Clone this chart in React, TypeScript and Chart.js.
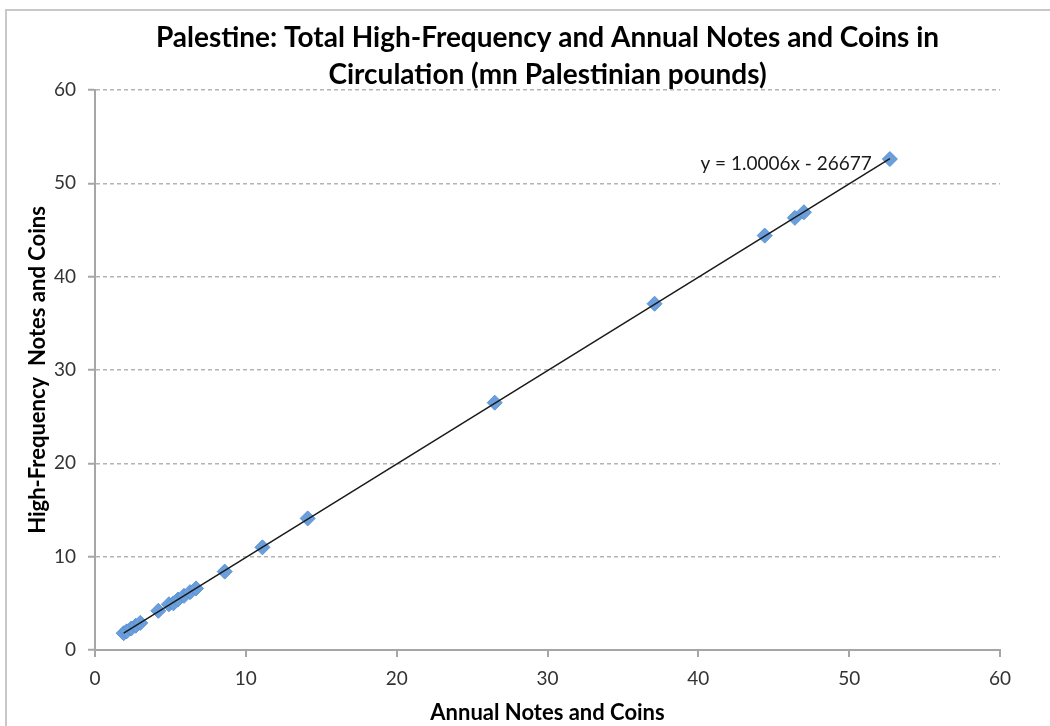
import React, { useEffect, useRef } from "react";
import { Chart, registerables } from "chart.js";

Chart.register(...registerables);

const titleLines = [
  "Palestine: Total High-Frequency and Annual Notes and Coins in",
  "Circulation (mn Palestinian pounds)",
];
const xAxisTitle = "Annual Notes and Coins";
const yAxisTitle = "High-Frequency  Notes and Coins";
const equationLabel = "y = 1.0006x - 26677";

const annualValues = [
  1.9, 2.1, 2.4, 2.7, 3.0, 4.2, 4.9, 5.2, 5.5, 5.9, 6.3, 6.7, 8.6, 11.1, 14.1,
  26.5, 37.1, 44.4, 46.4, 47.0, 52.7,
];
const highFrequencyValues = [
  1.8, 2.0, 2.3, 2.6, 2.9, 4.2, 4.9, 5.0, 5.4, 5.8, 6.2, 6.6, 8.4, 11.0, 14.1,
  26.5, 37.1, 44.4, 46.3, 46.9, 52.6,
];
const axisTicks = [0, 10, 20, 30, 40, 50, 60];

const FONT = "Lato, 'Open Sans', sans-serif";

export default function App() {
  const canvasRef = useRef<HTMLCanvasElement | null>(null);

  useEffect(() => {
    const canvas = canvasRef.current;
    if (!canvas) return;

    const points = annualValues.map((x, i) => ({ x, y: highFrequencyValues[i] }));
    // least squares fit of the data for the trendline
    const n = points.length;
    const mx = points.reduce((s, p) => s + p.x, 0) / n;
    const my = points.reduce((s, p) => s + p.y, 0) / n;
    let sxy = 0;
    let sxx = 0;
    points.forEach((p) => {
      sxy += (p.x - mx) * (p.y - my);
      sxx += (p.x - mx) * (p.x - mx);
    });
    const slope = sxy / sxx;
    const intercept = my - slope * mx;
    const minX = Math.min(...annualValues);
    const maxX = Math.max(...annualValues);
    const trend = [
      { x: minX, y: slope * minX + intercept },
      { x: maxX, y: slope * maxX + intercept },
    ];

    const decorPlugin = {
      id: "decor",
      beforeDraw(chart: any) {
        const ctx = chart.ctx;
        ctx.save();
        ctx.fillStyle = "#ffffff";
        ctx.fillRect(0, 0, chart.width, chart.height);
        ctx.strokeStyle = "#c8c8c8";
        ctx.lineWidth = 2;
        ctx.strokeRect(6, 10, chart.width + 20, chart.height + 20);
        ctx.restore();
      },
      afterDraw(chart: any) {
        const ctx = chart.ctx;
        const area = chart.chartArea;
        const cx = (area.left + area.right) / 2;
        ctx.save();
        ctx.fillStyle = "#000000";
        ctx.textAlign = "center";
        ctx.textBaseline = "middle";
        ctx.font = `bold 28px ${FONT}`;
        ctx.fillText(titleLines[0], cx, 38);
        ctx.fillText(titleLines[1], cx, 75);

        ctx.font = `bold 22px ${FONT}`;
        ctx.fillText(xAxisTitle, cx, 713);

        ctx.save();
        ctx.translate(38, (area.top + area.bottom) / 2);
        ctx.rotate(-Math.PI / 2);
        ctx.fillText(yAxisTitle, 0, 0);
        ctx.restore();

        const xs = chart.scales.x;
        const ys = chart.scales.y;
        ctx.font = `19px ${FONT}`;
        ctx.fillStyle = "#1a1a1a";
        ctx.textAlign = "right";
        ctx.fillText(
          equationLabel,
          xs.getPixelForValue(maxX) - 18,
          ys.getPixelForValue(slope * maxX + intercept) + 5
        );
        ctx.restore();
      },
    };

    const chart = new Chart(canvas, {
      type: "scatter",
      data: {
        datasets: [
          {
            type: "line",
            label: "Trend",
            data: trend,
            borderColor: "#1a1a1a",
            borderWidth: 1.5,
            pointRadius: 0,
            showLine: true,
            fill: false,
            order: 0,
          },
          {
            label: "Notes and Coins",
            data: points,
            pointStyle: "rectRot",
            pointRadius: 7.5,
            backgroundColor: "#6a9fdc",
            borderColor: "#5b92d4",
            borderWidth: 1,
            order: 1,
          },
        ],
      },
      options: {
        animation: false,
        responsive: false,
        maintainAspectRatio: false,
        layout: { padding: { left: 0, top: 90, right: 50, bottom: 0 } },
        plugins: {
          legend: { display: false },
          title: { display: false },
          tooltip: { enabled: false },
        },
        scales: {
          x: {
            type: "linear",
            min: 0,
            max: 60,
            afterBuildTicks(scale: any) {
              scale.ticks = axisTicks.map((v) => ({ value: v }));
            },
            afterFit(scale: any) {
              scale.height = 76;
            },
            border: { display: true, color: "#a6a6a6", width: 2 },
            grid: {
              drawOnChartArea: false,
              drawTicks: true,
              tickLength: 7,
              color: "#a6a6a6",
              lineWidth: 2,
            },
            ticks: {
              padding: 10,
              color: "#333333",
              font: { family: FONT, size: 19 },
              maxRotation: 0,
            },
          },
          y: {
            type: "linear",
            min: 0,
            max: 60,
            afterBuildTicks(scale: any) {
              scale.ticks = axisTicks.map((v) => ({ value: v }));
            },
            afterFit(scale: any) {
              scale.width = 95;
            },
            border: { display: true, color: "#a6a6a6", width: 2, dash: [4, 3] },
            grid: {
              drawOnChartArea: true,
              drawTicks: true,
              tickLength: 7,
              color: "#b4b4b4",
              lineWidth: 1.5,
              tickBorderDash: [],
              tickColor: "#a6a6a6",
              tickWidth: 2,
            },
            ticks: {
              padding: 12,
              color: "#333333",
              font: { family: FONT, size: 19 },
            },
          },
        },
      },
      plugins: [decorPlugin],
    } as any);

    return () => {
      chart.destroy();
    };
  }, []);

  return (
    <div style={{ position: "fixed", left: 0, top: 0, width: 1050, height: 726, background: "#fff" }}>
      <canvas ref={canvasRef} width={1050} height={726} style={{ width: 1050, height: 726, display: "block" }} />
    </div>
  );
}
